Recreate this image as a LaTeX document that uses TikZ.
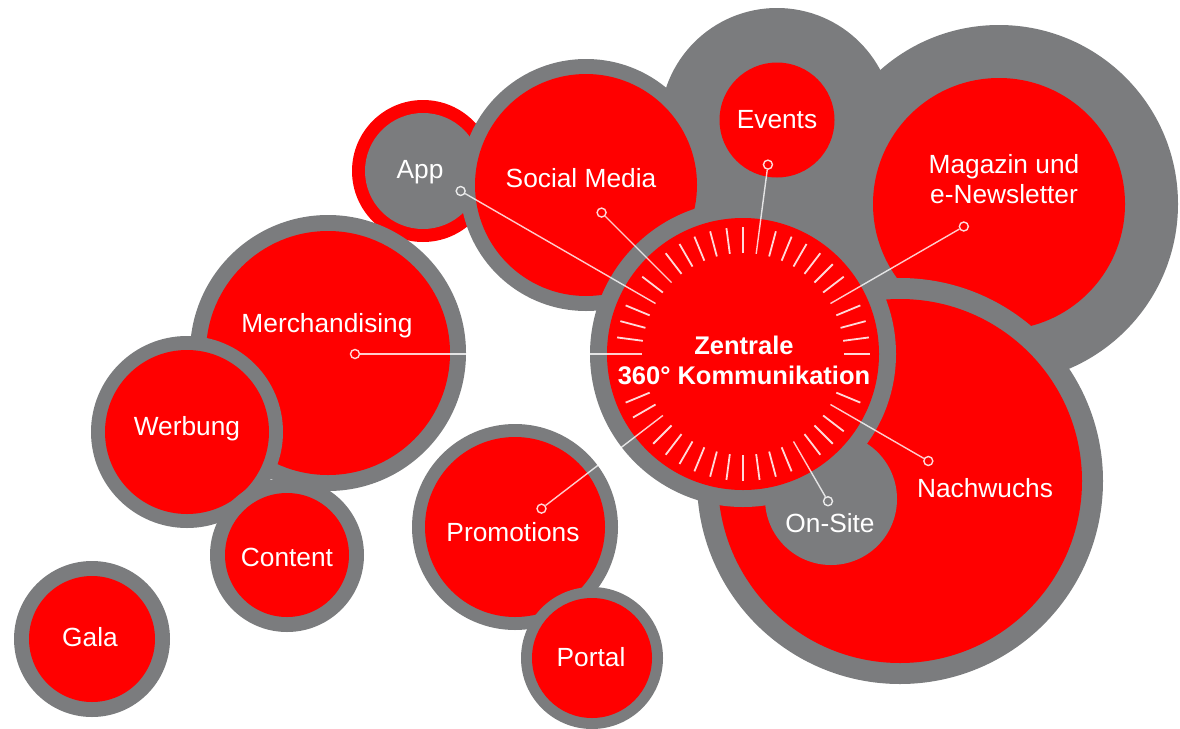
\documentclass[tikz,border=0pt]{standalone}
\usepackage{fontspec}
\setmainfont{Liberation Sans}
\usetikzlibrary{calc}
\definecolor{bred}{RGB}{255,0,0}
\definecolor{bgray}{RGB}{123,124,126}
\tikzset{
  lbl/.style={text=white, font=\fontsize{26.3}{30}\selectfont, align=center, inner sep=0pt},
  clbl/.style={text=white, font=\bfseries\fontsize{25.5}{30}\selectfont, align=center, inner sep=0pt},
  marker/.style={circle, draw=white, line width=1.4pt, minimum size=9pt, inner sep=0pt, opacity=0.85},
  conn/.style={draw=white, line width=1.4pt, opacity=0.8},
  tick/.style={draw=white, line width=1.8pt, opacity=0.85},
}
\newcommand{\bubble}[4]{% center, outer radius, inner radius, fill of inner
  \fill[bgray] #1 circle (#2);
  \fill[#4] #1 circle (#3);
}
\begin{document}
\begin{tikzpicture}[x=1pt,y=-1pt]
\useasboundingbox (0,0) rectangle (1180,728);
% centres
\coordinate (Z) at (743,354);
% background gray of events
\fill[bgray] (777,125) circle (117);
% Magazin
\bubble{(999,204)}{179}{126}{bred}
% Events red
\fill[bred] (777,120) circle (57.5);
% App (red ring, gray inside)
\fill[bred] (423,171) circle (71);
\fill[bgray] (423,171) circle (58);
% Social Media
\bubble{(586,185)}{126}{111}{bred}
% Nachwuchs
\bubble{(900,481)}{203}{182}{bred}
% On-Site
\fill[bgray] (831,499) circle (66);
% Centre
\bubble{(Z)}{153}{136}{bred}
% Merchandising
\bubble{(328,353)}{138}{122}{bred}
% Werbung
\bubble{(187,432)}{96}{82}{bred}
% Content
\bubble{(287,555)}{77}{62}{bred}
% Promotions
\bubble{(515,527)}{103}{90}{bred}
% Portal
\bubble{(592,658)}{71}{60}{bred}
% Gala
\bubble{(92,639)}{78}{63}{bred}

% ticks of the central dial
\foreach \a in {0,7.5,...,352.5}{
  \pgfmathparse{(\a==30)||(\a==82.5)||(\a==135)||(\a==150)||(\a==180)||(\a==187.5)||(\a==195)||(\a==217.5)||(\a==300)||(\a==330)||(\a==345)||(\a==352.5)}
  \ifnum\pgfmathresult=0
    \draw[tick] ($(Z)+(-\a:101)$) -- ($(Z)+(-\a:127)$);
  \fi
}

% markers
\node[marker] (mApp) at ($(Z)+(-150:326)$) {};
\node[marker] (mSoc) at ($(Z)+(-135:200)$) {};
\node[marker] (mEve) at ($(Z)+(-82.5:191)$) {};
\node[marker] (mMag) at ($(Z)+(-30:255)$) {};
\node[marker] (mMer) at ($(Z)+(-180:388)$) {};
\node[marker] (mPro) at ($(Z)+(-217.5:254)$) {};
\node[marker] (mNac) at ($(Z)+(-330:214)$) {};
\node[marker] (mOns) at ($(Z)+(-300:170)$) {};
% inner ends
\coordinate (eApp) at ($(Z)+(-150:101)$);
\coordinate (eSoc) at ($(Z)+(-135:101)$);
\coordinate (eEve) at ($(Z)+(-82.5:101)$);
\coordinate (eMag) at ($(Z)+(-30:101)$);
\coordinate (eMer) at ($(Z)+(-180:101)$);
\coordinate (ePro) at ($(Z)+(-217.5:101)$);
\coordinate (eNac) at ($(Z)+(-330:101)$);
\coordinate (eOns) at ($(Z)+(-300:101)$);
\draw[conn] (mApp) -- (eApp);
\draw[conn] (mSoc) -- (eSoc);
\draw[conn] (mEve) -- (eEve);
\draw[conn] (mMag) -- (eMag);
\draw[conn] (mMer) -- (eMer);
\draw[conn] (mPro) -- (ePro);
\draw[conn] (mNac) -- (eNac);
\draw[conn] (mOns) -- (eOns);

% labels
\node[clbl] (zen) at (744,360) {Zentrale\\360° Kommunikation};
\node[lbl] (app) at (420,172) {App};
\node[lbl] (soc) at (581,178) {Social Media};
\node[lbl] (eve) at (777,120) {Events};
\node[lbl] (mag) at (1004,179) {Magazin und\\e-Newsletter};
\node[lbl] (mer) at (327,326) {Merchandising};
\node[lbl] (wer) at (187,429) {Werbung};
\node[lbl] (con) at (287,557) {Content};
\node[lbl] (pro) at (513,532) {Promotions};
\node[lbl] (por) at (591,657) {Portal};
\node[lbl] (gal) at (90,637) {Gala};
\node[lbl] (nac) at (985,488) {Nachwuchs};
\node[lbl] (ons) at (830,523) {On-Site};
\end{tikzpicture}
\end{document}
